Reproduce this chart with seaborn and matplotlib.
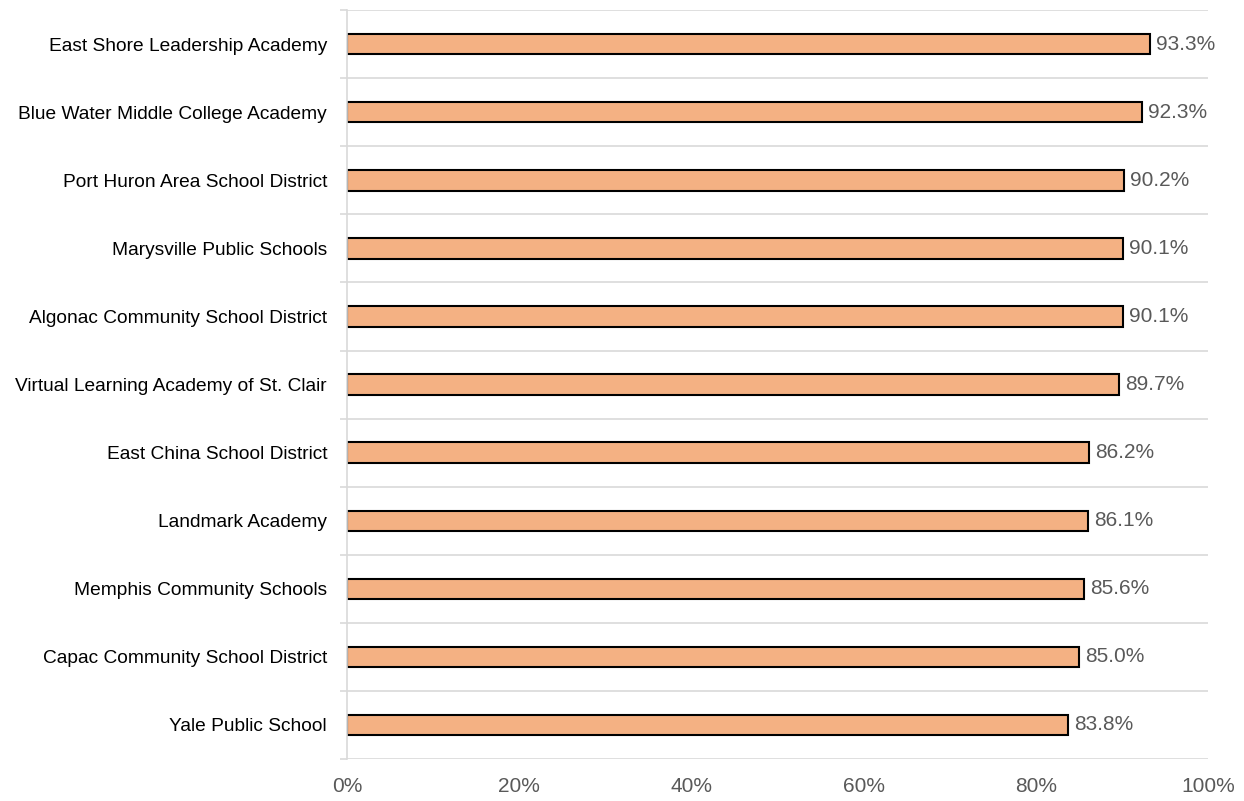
import numpy as np
import pandas as pd
import matplotlib
matplotlib.use("Agg")
import matplotlib.pyplot as plt
import seaborn as sns
from matplotlib.ticker import FixedLocator, PercentFormatter

schools = [
    "East Shore Leadership Academy",
    "Blue Water Middle College Academy",
    "Port Huron Area School District",
    "Marysville Public Schools",
    "Algonac Community School District",
    "Virtual Learning Academy of St. Clair",
    "East China School District",
    "Landmark Academy",
    "Memphis Community Schools",
    "Capac Community School District",
    "Yale Public School",
]
rates = [93.3, 92.3, 90.2, 90.1, 90.1, 89.7, 86.2, 86.1, 85.6, 85.0, 83.8]

df = pd.DataFrame({"school": schools, "rate": rates})

sns.set_style("white")
plt.rcParams["font.family"] = ["Liberation Sans", "DejaVu Sans"]

fig = plt.figure(figsize=(12.44, 8.01), dpi=100)
ax = fig.add_axes([0.279, 0.0524, 0.692, 0.935])

sns.barplot(data=df, x="rate", y="school", orient="h", color="#F4B183",
            edgecolor="black", linewidth=1.5, width=0.3, saturation=1, ax=ax)

ax.set_xlim(0, 100)
ax.set_ylim(len(schools) - 0.5, -0.5)
ax.xaxis.set_major_formatter(PercentFormatter(decimals=0))
ax.set_xticks(range(0, 101, 20))

# boundaries between categories: gridlines + small ticks
bounds = np.arange(-0.5, len(schools), 1.0)
ax.yaxis.set_minor_locator(FixedLocator(bounds))
ax.grid(axis="y", which="minor", color="#D9D9D9", linewidth=1.2)
ax.grid(axis="x", visible=False)
ax.tick_params(axis="y", which="major", left=False, length=0, pad=14.4,
               labelsize=13.8, labelcolor="black")
ax.tick_params(axis="y", which="minor", left=True, length=5, color="#D9D9D9", width=1.2)
ax.tick_params(axis="x", bottom=False, length=0, labelsize=15, labelcolor="#595959", pad=13)

for s in ["top", "right", "bottom"]:
    ax.spines[s].set_visible(False)
ax.spines["left"].set_color("#D9D9D9")
ax.spines["left"].set_linewidth(1.2)

for i, v in enumerate(rates):
    ax.text(v + 0.7, i, f"{v:.1f}%", va="center", ha="left", fontsize=15, color="#595959")

ax.set_xlabel("")
ax.set_ylabel("")

fig.savefig("out.png", dpi=100)
